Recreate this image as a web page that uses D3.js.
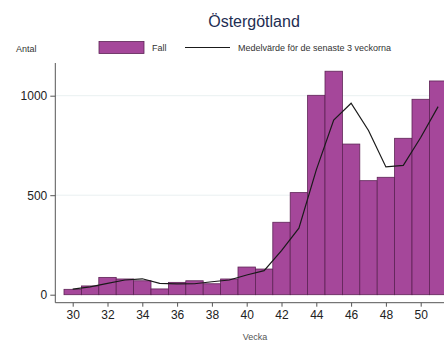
<!DOCTYPE html>
<html><head><meta charset="utf-8">
<script src="https://cdn.jsdelivr.net/npm/d3@7"></script>
<style>body{margin:0;background:#fff}svg{display:block}text{font-family:"Liberation Sans",Arial,sans-serif}</style>
</head><body>
<svg id="c" width="444" height="347"></svg>
<script>
const weeks = [30,31,32,33,34,35,36,37,38,39,40,41,42,43,44,45,46,47,48,49,50,51];
const cases = [27,44,87,79,70,29,62,70,55,79,139,129,364,513,1002,1123,757,573,590,786,982,1074];
const mean3 = [28,39,57,74,80,57,54,55,65,74,99,121,222,334,627,878,962,825,642,650,790,945];
const xTicks = [30,32,34,36,38,40,42,44,46,48,50];
const yTicks = [0,500,1000];
const title = "Östergötland";
const legendBar = "Fall";
const legendLine = "Medelvärde för de senaste 3 veckorna";
const yLabel = "Antal";
const xLabel = "Vecka";

const svg = d3.select("#c");
const x = d3.scaleLinear().domain([29, 53]).range([55.3, 55.3 + 24*17.4]);
const y = d3.scaleLinear().domain([0, 1000]).range([294.7, 95.7]);
const axisY = 302.7, axisX = 55.3, topY = 63;

// gridlines
svg.append("g").selectAll("line").data(yTicks.filter(d=>d>0)).join("line")
  .attr("x1", axisX).attr("x2", 444).attr("y1", d=>y(d)).attr("y2", d=>y(d))
  .attr("stroke", "#e9f0f1").attr("stroke-width", 1);

// bars
svg.append("g").selectAll("rect").data(weeks).join("rect")
  .attr("x", d=>x(d-0.5)).attr("width", x(1)-x(0))
  .attr("y", (d,i)=>y(cases[i])).attr("height", (d,i)=>y(0)-y(cases[i]))
  .attr("fill", "#a5479a").attr("stroke", "#5e2356").attr("stroke-width", 0.8);

// line
svg.append("path").datum(weeks.map((w,i)=>[w, mean3[i]]))
  .attr("d", d3.line().x(d=>x(d[0])).y(d=>y(d[1])))
  .attr("fill", "none").attr("stroke", "#1a1a1a").attr("stroke-width", 1.2);

// axes
const yAxis = d3.axisLeft(y).tickValues(yTicks).tickFormat(d3.format("d")).tickSize(5).tickPadding(3);
const gy = svg.append("g").attr("transform", `translate(${axisX},0)`).call(yAxis);
gy.select(".domain").remove();
gy.append("line").attr("x1",0).attr("x2",0).attr("y1",topY).attr("y2",axisY).attr("stroke","#555");
gy.selectAll(".tick line").attr("stroke","#555");
gy.selectAll(".tick text").attr("font-size", 12).attr("fill","#222").style("font-family","Liberation Sans, Arial, sans-serif");

const xAxis = d3.axisBottom(x).tickValues(xTicks).tickSize(4).tickPadding(4);
const gx = svg.append("g").attr("transform", `translate(0,${axisY})`).call(xAxis);
gx.select(".domain").remove();
gx.append("line").attr("x1",axisX).attr("x2",444).attr("y1",0).attr("y2",0).attr("stroke","#555");
gx.selectAll(".tick line").attr("stroke","#555");
gx.selectAll(".tick text").attr("font-size", 12).attr("fill","#222").style("font-family","Liberation Sans, Arial, sans-serif");

// title
svg.append("text").attr("x", 254).attr("y", 27).attr("text-anchor","middle")
  .attr("font-size", 16).attr("fill", "#1e2d52").text(title);

// legend
svg.append("rect").attr("x", 99).attr("y", 41.5).attr("width", 45).attr("height", 12)
  .attr("fill", "#a5479a").attr("stroke", "#5e2356").attr("stroke-width", 0.8);
svg.append("text").attr("x", 152).attr("y", 51).attr("font-size", 9).attr("fill","#333").text(legendBar);
svg.append("line").attr("x1", 185).attr("x2", 230).attr("y1", 47.5).attr("y2", 47.5)
  .attr("stroke", "#1a1a1a").attr("stroke-width", 1.2);
svg.append("text").attr("x", 238).attr("y", 51).attr("font-size", 9).attr("fill","#333").text(legendLine);

svg.append("text").attr("x", 16).attr("y", 52).attr("font-size", 9).attr("fill","#333").text(yLabel);
svg.append("text").attr("x", 255).attr("y", 340).attr("text-anchor","middle").attr("font-size", 9).attr("fill","#555").text(xLabel);
</script>
</body></html>
